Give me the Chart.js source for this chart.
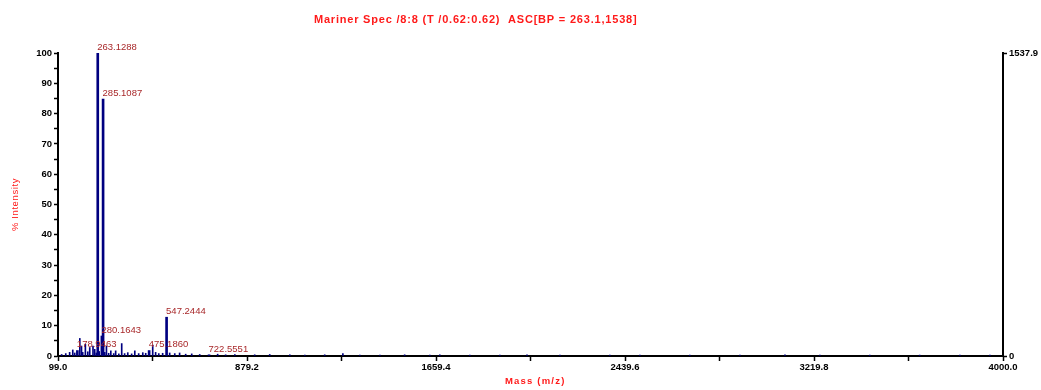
<!DOCTYPE html>
<html>
<head>
<meta charset="utf-8">
<script src="https://cdn.jsdelivr.net/npm/chart.js@4"></script>
<style>
  html, body { margin: 0; padding: 0; background: #fff; }
  #wrap { width: 1041px; height: 390px; position: relative; }
</style>
</head>
<body>
<div id="wrap"><canvas id="spectrum"></canvas></div>
<script>
// Spectrum header and axis titles
const titleText = 'Mariner Spec /8:8 (T /0.62:0.62)  ASC[BP = 263.1,1538]';
const xTitle = 'Mass (m/z)';
const yTitle = '% Intensity';

// Annotated peaks: m/z and relative intensity (%)
const labeledMz  = [178.9463, 263.1288, 280.1643, 285.1087, 475.1860, 547.2444, 722.5551];
const labeledPct = [1.8, 100, 6.6, 84.8, 1.8, 12.8, 0.4];

// Remaining peaks (m/z and %)
const otherMz  = [114, 131, 147, 160, 168, 189, 196, 201, 212, 222, 230, 243.5, 250.5, 257, 269,
                  292, 299, 308, 317, 329, 337, 350, 362, 374, 387, 403, 416, 432, 449, 461,
                  490, 502, 515, 531, 560, 581, 601, 626, 651, 684, 758, 791, 829, 911, 973,
                  1056, 1118, 1200, 1275, 1345, 1428, 1530, 1634, 1675, 1799, 1923, 2035, 2171,
                  2377, 2501, 2707, 2914, 3100, 3244, 3450, 3656, 3822, 3946];
const otherPct = [0.5, 0.8, 1.2, 2.0, 1.0, 5.8, 3.3, 1.2, 3.9, 1.4, 2.8, 3.3, 2.2, 1.0, 1.5,
                  1.2, 3.3, 0.9, 1.7, 0.8, 1.7, 0.7, 4.1, 0.8, 1.1, 0.7, 1.7, 0.8, 1.1, 0.9,
                  3.6, 1.2, 0.8, 0.9, 1.0, 0.8, 1.0, 0.6, 0.7, 0.5, 0.6, 0.4, 0.5, 0.4, 0.5,
                  0.4, 0.3, 0.4, 0.8, 0.3, 0.3, 0.4, 0.3, 0.4, 0.3, 0.3, 0.4, 0.3,
                  0.3, 0.3, 0.3, 0.3, 0.4, 0.3, 0.3, 0.3, 0.3, 0.3];

// Axis ticks
const xMajorTicks = [99.0, 879.2, 1659.4, 2439.6, 3219.8, 4000.0];
const xMinorTicks = [489.1, 1269.3, 2049.5, 2829.7, 3609.9];
const yTicks = [0, 5, 10, 15, 20, 25, 30, 35, 40, 45, 50, 55, 60, 65, 70, 75, 80, 85, 90, 95, 100];
const basePeakCounts = 1537.9;

const RED = '#ff1a1a';
const LABEL_RED = '#a8282a';
const BAR = '#000080';
const FONT = '"Liberation Sans", Arial, sans-serif';

const toPoints = (xs, ys) => xs.map((x, i) => ({ x: x, y: ys[i] }));

// Header text and the two red axis titles
const textPlugin = {
  id: 'chartText',
  afterDraw(chart) {
    const ctx = chart.ctx;
    const area = chart.chartArea;
    ctx.save();
    ctx.fillStyle = RED;
    ctx.textAlign = 'center';
    ctx.textBaseline = 'middle';

    ctx.font = 'bold 11px ' + FONT;
    ctx.letterSpacing = '0.8px';
    ctx.fillText(titleText, area.left + area.width * 0.442, 20);

    ctx.font = 'bold 9.5px ' + FONT;
    ctx.letterSpacing = '1.2px';
    ctx.fillText(xTitle, area.left + area.width * 0.505, 381);

    ctx.font = '9.5px ' + FONT;
    ctx.letterSpacing = '0.6px';
    ctx.translate(15, area.top + area.height * 0.5);
    ctx.rotate(-Math.PI / 2);
    ctx.fillText(yTitle, 0, 0);
    ctx.restore();
  }
};

// m/z annotations at the top of the labelled peaks
const peakLabelPlugin = {
  id: 'peakLabels',
  afterDatasetsDraw(chart) {
    const ctx = chart.ctx;
    const xs = chart.scales.x, ys = chart.scales.y;
    ctx.save();
    ctx.font = '9.5px ' + FONT;
    ctx.fillStyle = LABEL_RED;
    ctx.textAlign = 'left';
    ctx.textBaseline = 'bottom';
    labeledMz.forEach((mz, i) => {
      const px = xs.getPixelForValue(mz);
      const py = ys.getPixelForValue(labeledPct[i]);
      ctx.fillText(mz.toFixed(4), px - 0.5, py - 1);
    });
    ctx.restore();
  }
};

const tickFont = { family: FONT, size: 9.5, weight: 'bold' };

new Chart(document.getElementById('spectrum'), {
  type: 'bar',
  data: {
    datasets: [
      {
        label: 'peaks',
        data: toPoints(otherMz, otherPct),
        backgroundColor: BAR,
        barThickness: 1,
        grouped: false,
        yAxisID: 'y'
      },
      {
        label: 'labelled peaks',
        data: toPoints(labeledMz, labeledPct),
        backgroundColor: BAR,
        barThickness: 2,
        grouped: false,
        yAxisID: 'y'
      }
    ]
  },
  options: {
    responsive: true,
    maintainAspectRatio: false,
    animation: false,
    devicePixelRatio: 1,
    layout: { padding: { top: 53, left: 0, right: 0, bottom: 0 } },
    plugins: {
      legend: { display: false },
      tooltip: { enabled: false },
      title: { display: false }
    },
    scales: {
      x: {
        type: 'linear',
        min: 99,
        max: 4000,
        offset: false,
        grid: { offset: false, drawOnChartArea: false, drawTicks: true, tickLength: 5, color: '#000', tickWidth: 1.5 },
        border: { display: true, color: '#000', width: 2 },
        ticks: {
          font: tickFont,
          color: '#000',
          padding: 1,
          maxRotation: 0,
          autoSkip: false,
          callback: (v) => xMajorTicks.some(t => Math.abs(t - v) < 1e-6) ? v.toFixed(1) : ''
        },
        afterBuildTicks: (s) => {
          s.ticks = xMajorTicks.concat(xMinorTicks).sort((a, b) => a - b).map(v => ({ value: v }));
        },
        afterFit: (s) => { s.height = 34; }
      },
      y: {
        type: 'linear',
        position: 'left',
        min: 0,
        max: 100,
        grid: { drawOnChartArea: false, drawTicks: true, tickLength: 4, color: '#000', tickWidth: 1.5 },
        border: { display: true, color: '#000', width: 2 },
        ticks: {
          font: tickFont,
          color: '#000',
          padding: 2,
          autoSkip: false,
          callback: (v) => (v % 10 === 0 ? String(v) : '')
        },
        afterBuildTicks: (s) => { s.ticks = yTicks.map(v => ({ value: v })); },
        afterFit: (s) => { s.width = 58; }
      },
      y2: {
        type: 'linear',
        position: 'right',
        min: 0,
        max: basePeakCounts,
        grid: { drawOnChartArea: false, drawTicks: true, tickLength: 4, color: '#000', tickWidth: 1.5 },
        border: { display: true, color: '#000', width: 2 },
        ticks: {
          font: tickFont,
          color: '#000',
          padding: 2,
          autoSkip: false,
          callback: (v) => (v === 0 ? '0' : v.toFixed(1))
        },
        afterBuildTicks: (s) => { s.ticks = [0, basePeakCounts].map(v => ({ value: v })); },
        afterFit: (s) => { s.width = 38; }
      }
    }
  },
  plugins: [textPlugin, peakLabelPlugin]
});
</script>
</body>
</html>
